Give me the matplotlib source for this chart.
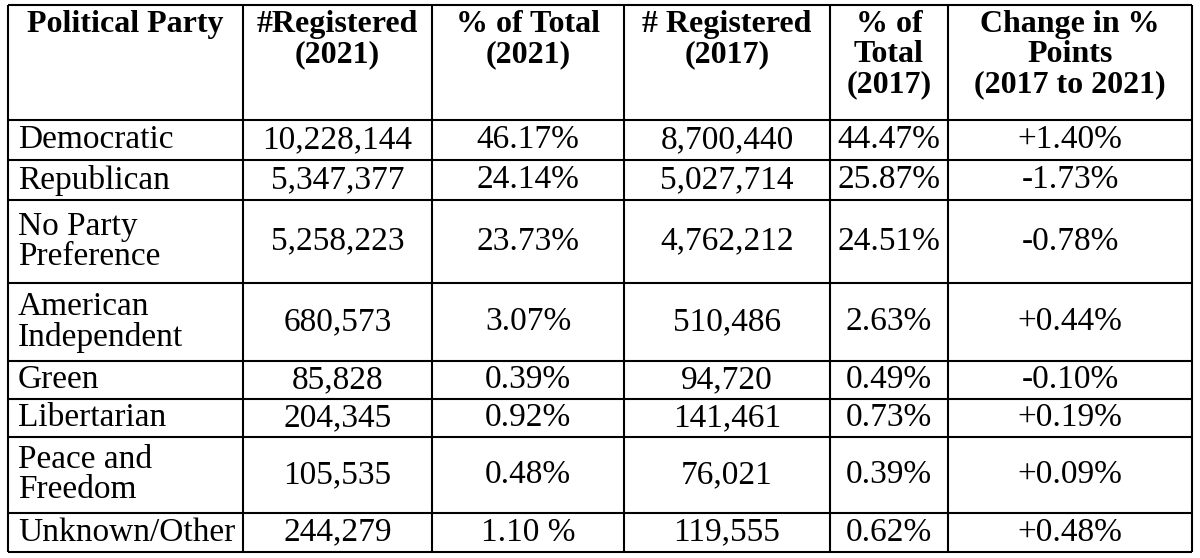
import matplotlib.pyplot as plt


HEADERS = [
    "Political Party",
    "#Registered\n(2021)",
    "% of Total\n(2021)",
    "# Registered\n(2017)",
    "% of\nTotal\n(2017)",
    "Change in %\nPoints\n(2017 to 2021)",
]

ROWS = [
    ["Democratic", "10,228,144", "46.17%", "8,700,440", "44.47%", "+1.40%"],
    ["Republican", "5,347,377", "24.14%", "5,027,714", "25.87%", "-1.73%"],
    ["No Party\nPreference", "5,258,223", "23.73%", "4,762,212", "24.51%", "-0.78%"],
    ["American\nIndependent", "680,573", "3.07%", "510,486", "2.63%", "+0.44%"],
    ["Green", "85,828", "0.39%", "94,720", "0.49%", "-0.10%"],
    ["Libertarian", "204,345", "0.92%", "141,461", "0.73%", "+0.19%"],
    ["Peace and\nFreedom", "105,535", "0.48%", "76,021", "0.39%", "+0.09%"],
    ["Unknown/Other", "244,279", "1.10 %", "119,555", "0.62%", "+0.48%"],
]

COL_EDGES = [8, 243, 432, 624, 830, 948, 1192]
ROW_EDGES = [5, 120, 160, 200, 283, 361, 399, 437, 513, 552]


def plot_table(save_path="out.png"):
    plt.rcParams["font.family"] = ["Liberation Serif", "DejaVu Serif"]
    fig = plt.figure(figsize=(12, 5.58), dpi=100)
    ax = fig.add_axes([0, 0, 1, 1])
    ax.set_xlim(0, 1200)
    ax.set_ylim(558, 0)
    ax.axis("off")

    ax.hlines(ROW_EDGES, COL_EDGES[0], COL_EDGES[-1], color="black", linewidth=1.5)
    ax.vlines(COL_EDGES, ROW_EDGES[0], ROW_EDGES[-1], color="black", linewidth=1.5)

    # header row, text sits at the top of the cell
    for c, h in enumerate(HEADERS):
        x = (COL_EDGES[c] + COL_EDGES[c + 1]) / 2
        ax.text(x, ROW_EDGES[0] + 5, h, ha="center", va="top",
                fontsize=23, fontweight="bold", linespacing=1.05)

    for r, row in enumerate(ROWS):
        y = (ROW_EDGES[r + 1] + ROW_EDGES[r + 2]) / 2
        for c, val in enumerate(row):
            if c == 0:
                ax.text(COL_EDGES[0] + 10, y, val, ha="left", va="center",
                        fontsize=24, linespacing=1.0)
            else:
                x = (COL_EDGES[c] + COL_EDGES[c + 1]) / 2
                ax.text(x, y, val, ha="center", va="center", fontsize=24)

    fig.savefig(save_path, dpi=100)


plot_table()
